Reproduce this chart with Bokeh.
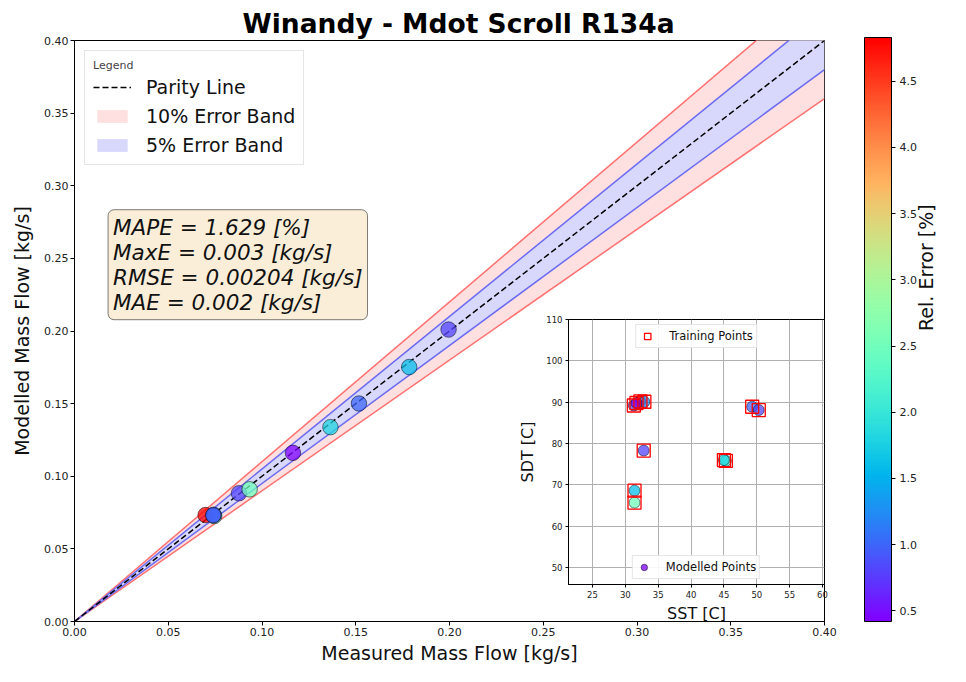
import math
from bokeh.plotting import figure
from bokeh.models import (ColumnDataSource, LinearColorMapper, ColorBar, FixedTicker,
                          PrintfTickFormatter, Legend, LegendItem, Label, LinearAxis, Range1d)
from bokeh.layouts import column
from bokeh.embed import file_html
from bokeh.resources import INLINE

# ---------------- data ----------------
measured = [0.0699, 0.0745, 0.0742, 0.0740, 0.0877, 0.0934, 0.1165, 0.1365, 0.1517, 0.1785, 0.1995]
modelled = [0.0733, 0.0726, 0.0735, 0.0731, 0.0883, 0.0910, 0.1161, 0.1338, 0.1501, 0.1752, 0.2010]
rel_err = [4.83, 2.1, 1.2, 0.9, 0.8, 2.5, 0.42, 1.8, 1.0, 1.6, 0.8]
sst = [32.3, 45.3, 32.9, 31.3, 32.8, 31.4, 31.7, 45.0, 49.3, 31.4, 50.3]
sdt = [90.2, 75.8, 90.1, 89.2, 78.3, 65.7, 89.8, 76.0, 88.9, 68.6, 88.1]

parity_x = [0.0, 0.4]
main_ticks = [0.0, 0.05, 0.10, 0.15, 0.20, 0.25, 0.30, 0.35, 0.40]
cb_ticks = [0.5, 1.0, 1.5, 2.0, 2.5, 3.0, 3.5, 4.0, 4.5]
err_low, err_high = 0.42, 4.83
inset_x_ticks = [25, 30, 35, 40, 45, 50, 55, 60]
inset_y_ticks = [50, 60, 70, 80, 90, 100, 110]

stats_text = ("MAPE = 1.629 [%]\nMaxE = 0.003 [kg/s]\n"
              "RMSE = 0.00204 [kg/s]\nMAE = 0.002 [kg/s]")

FONT = "DejaVu Sans"


def rainbow(n=256):
    out = []
    for i in range(n):
        t = i / (n - 1)
        r = min(1.0, max(0.0, abs(2 * t - 0.5)))
        g = min(1.0, max(0.0, math.sin(math.pi * t)))
        b = min(1.0, max(0.0, math.cos(math.pi * t / 2)))
        out.append("#%02x%02x%02x" % (round(r * 255), round(g * 255), round(b * 255)))
    return out


mapper = LinearColorMapper(palette=rainbow(), low=err_low, high=err_high)
src = ColumnDataSource(dict(meas=measured, mod=modelled, err=rel_err, sst=sst, sdt=sdt))

# ---------------- main figure ----------------
W, H = 950, 666
BL, BR, BT, BB = 74, 125, 40, 42
p = figure(width=W, height=H, x_range=(0, 0.4), y_range=(0, 0.4),
           output_backend="svg", toolbar_location=None,
           min_border_left=BL, min_border_right=BR, min_border_top=BT, min_border_bottom=BB)
p.title.text = "Winandy - Mdot Scroll R134a"
p.title.align = "left"
p.title.offset = 168
p.title.text_font = FONT
p.title.text_font_size = "26.5px"
p.title.text_font_style = "bold"
p.title.text_color = "black"
p.title.standoff = 4
p.grid.visible = False
p.outline_line_color = "black"
p.outline_line_alpha = 1.0
p.background_fill_color = "white"

for ax in (p.xaxis, p.yaxis):
    ax.ticker = FixedTicker(ticks=main_ticks)
    ax.formatter = PrintfTickFormatter(format="%.2f")
    ax.major_label_text_font = FONT
    ax.major_label_text_font_size = "11px"
    ax.major_label_text_color = "#222222"
    ax.axis_label_text_font = FONT
    ax.axis_label_text_font_size = "19px"
    ax.axis_label_text_font_style = "normal"
    ax.axis_label_text_color = "#111111"
    ax.axis_line_color = "black"
    ax.major_tick_line_color = "black"
    ax.major_tick_in = 0
    ax.major_tick_out = 4
    ax.minor_tick_line_color = None
    ax.major_label_standoff = 2
    ax.axis_label_standoff = 3
p.xaxis.axis_label = "Measured Mass Flow [kg/s]"
p.yaxis.axis_label = "Modelled Mass Flow [kg/s]"
p.yaxis.axis_label_standoff = 8

band_x = parity_x
y_lo10 = [v * 0.90 for v in band_x]
y_hi10 = [v * 1.10 for v in band_x]
y_lo5 = [v * 0.95 for v in band_x]
y_hi5 = [v * 1.05 for v in band_x]

r10 = p.varea(x=band_x, y1=y_lo10, y2=y_hi10, fill_color="#ffe0e0")
r5 = p.varea(x=band_x, y1=y_lo5, y2=y_hi5, fill_color="#d8d8fc")
p.line(band_x, y_lo10, line_color="#ff7070", line_width=1.5)
p.line(band_x, y_hi10, line_color="#ff7070", line_width=1.5)
p.line(band_x, y_lo5, line_color="#6b6bf2", line_width=1.5)
p.line(band_x, y_hi5, line_color="#6b6bf2", line_width=1.5)
rpar = p.line(parity_x, parity_x, line_color="black", line_width=1.5, line_dash="6 3")

p.scatter(x="meas", y="mod", source=src, size=15.5,
          fill_color={"field": "err", "transform": mapper}, fill_alpha=0.75,
          line_color="black", line_alpha=0.5, line_width=1)

legend = Legend(items=[LegendItem(label="Parity Line", renderers=[rpar]),
                       LegendItem(label="10% Error Band", renderers=[r10]),
                       LegendItem(label="5% Error Band", renderers=[r5])],
                location="top_left", title="Legend")
legend.title_text_font = FONT
legend.title_text_font_size = "11px"
legend.title_text_font_style = "normal"
legend.title_standoff = 4
legend.label_text_font = FONT
legend.label_text_font_size = "19px"
legend.label_text_color = "#111111"
legend.glyph_width = 38
legend.glyph_height = 16
legend.label_standoff = 15
legend.spacing = 7
legend.padding = 8
legend.margin = 10
legend.border_line_color = "#cccccc"
legend.background_fill_alpha = 0.9
p.add_layout(legend, "center")

stats = Label(x=0.0179, y=0.2835, text=stats_text, text_font=FONT,
              text_font_size="21.5px", text_font_style="italic", text_color="#111111",
              text_align="left", text_baseline="top", text_line_height=1.0,
              background_fill_color="#f5deb3", background_fill_alpha=0.5,
              border_line_color="black", border_line_alpha=0.5, border_line_width=1,
              border_radius=6, padding=5)
p.add_layout(stats)

cb = ColorBar(color_mapper=mapper, width=27, height=584, padding=0, margin=0,
              location=(40, 0), ticker=FixedTicker(ticks=cb_ticks),
              formatter=PrintfTickFormatter(format="%.1f"),
              major_label_text_font=FONT, major_label_text_font_size="11px",
              major_label_text_color="#222222",
              major_tick_in=0, major_tick_out=4, major_tick_line_color="black",
              minor_tick_line_color=None, bar_line_color="black",
              border_line_color=None, background_fill_alpha=0, label_standoff=4)
p.add_layout(cb, "right")

p.extra_y_ranges = {"cb": Range1d(0, 1)}
cb_axis = LinearAxis(y_range_name="cb", axis_label="Rel. Error [%]",
                     ticker=FixedTicker(ticks=[]), axis_line_color=None,
                     major_tick_line_color=None, minor_tick_line_color=None,
                     major_tick_in=0, major_tick_out=0, major_label_standoff=0,
                     major_label_text_font_size="0px",
                     axis_label_text_font=FONT, axis_label_text_font_size="19px",
                     axis_label_text_font_style="normal", axis_label_text_color="#111111",
                     axis_label_standoff=6)
if "axis_label_orientation" in LinearAxis.properties():
    cb_axis.axis_label_orientation = math.pi / 2
p.add_layout(cb_axis, "right")

# ---------------- inset figure ----------------
IFW, IFH = 257, 266
IT, IB = 5, 40
inset = figure(width=BL + IFW + BR, height=IT + IFH + IB,
               x_range=(21.36, 60.3), y_range=(45.9, 110),
               output_backend="svg", toolbar_location=None,
               min_border_left=BL, min_border_right=BR, min_border_top=IT, min_border_bottom=IB)
inset.border_fill_alpha = 0
inset.background_fill_color = "white"
inset.outline_line_color = "black"
inset.outline_line_alpha = 1.0
inset.xaxis.ticker = FixedTicker(ticks=inset_x_ticks)
inset.yaxis.ticker = FixedTicker(ticks=inset_y_ticks)
inset.grid.grid_line_color = "#b0b0b0"
inset.grid.grid_line_alpha = 1.0
inset.xgrid.ticker = FixedTicker(ticks=inset_x_ticks)
inset.ygrid.ticker = FixedTicker(ticks=inset_y_ticks)
for ax in (inset.xaxis, inset.yaxis):
    ax.major_label_text_font = FONT
    ax.major_label_text_font_size = "8.5px"
    ax.major_label_text_color = "#222222"
    ax.axis_label_text_font = FONT
    ax.axis_label_text_font_size = "16px"
    ax.axis_label_text_font_style = "normal"
    ax.axis_label_text_color = "#111111"
    ax.axis_line_color = "black"
    ax.major_tick_line_color = "black"
    ax.major_tick_in = 0
    ax.major_tick_out = 3
    ax.minor_tick_line_color = None
    ax.major_label_standoff = 3
    ax.axis_label_standoff = 6
inset.xaxis.axis_label = "SST [C]"
inset.yaxis.axis_label = "SDT [C]"
inset.xaxis.axis_label_standoff = 3

r_mod = inset.scatter(x="sst", y="sdt", source=src, size=11,
                      fill_color={"field": "err", "transform": mapper}, fill_alpha=0.75,
                      line_color="black", line_alpha=0.5)
r_train = inset.scatter(x="sst", y="sdt", source=src, marker="square", size=13,
                        fill_color=None, line_color="red", line_width=1.3)

leg_t = Legend(items=[LegendItem(label="Training Points", renderers=[r_train], index=0)],
               location="top_center")
leg_b = Legend(items=[LegendItem(label="Modelled Points", renderers=[r_mod], index=6)],
               location="bottom_center")
for lg in (leg_t, leg_b):
    lg.label_text_font = FONT
    lg.label_text_font_size = "11.5px"
    lg.label_text_color = "#111111"
    lg.glyph_width = 16
    lg.glyph_height = 16
    lg.label_standoff = 14
    lg.padding = 3
    lg.margin = 5
    lg.border_line_color = "#cccccc"
    lg.background_fill_alpha = 0.9
    inset.add_layout(lg, "center")

inset_left = 568 - BL
inset_top = 319 - IT
inset.margin = (-(H - inset_top), 0, 0, inset_left)

layout = column(p, inset)
open("out.html", "w").write(file_html(layout, INLINE))
